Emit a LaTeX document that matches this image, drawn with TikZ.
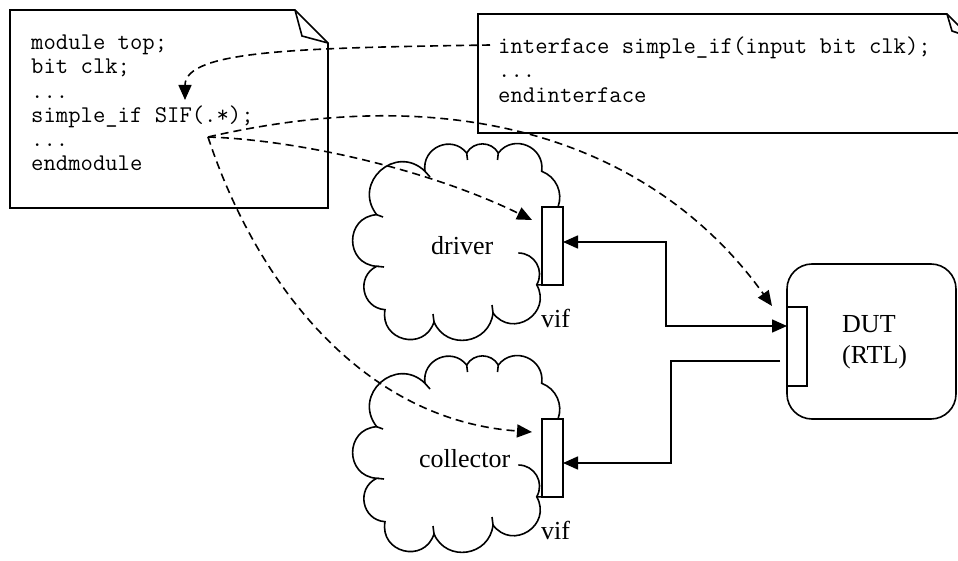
\documentclass[tikz,border=0pt]{standalone}
\usepackage{fontspec}
\setmainfont{Liberation Serif}
\usetikzlibrary{arrows.meta}

\tikzset{
  outline/.style={line width=1.6pt, line join=miter},
  codeline/.style={anchor=base west, inner sep=0pt, font=\ttfamily\fontsize{24pt}{24pt}\selectfont},
  tag/.style={anchor=base west, inner sep=0pt, font=\fontsize{26pt}{31pt}\selectfont},
  port/.style={draw, fill=white, line width=1.6pt, inner sep=0pt, outer sep=0pt},
  solidlink/.style={line width=1.6pt},
  reflink/.style={line width=1.6pt, dash pattern=on 8pt off 5pt},
  head/.style={-{Triangle[length=15pt,width=13pt]}},
  twoheads/.style={{Triangle[length=15pt,width=13pt]}-{Triangle[length=15pt,width=13pt]}},
  lobeA/.style={bend right=60, looseness=1.14},
  lobeB/.style={bend right=75, looseness=1.35},
  lobeC/.style={bend right=86, looseness=1.6},
}

% one cloud outline, open where the label sits and at the port
\newcommand\cloudoutline{%
  \draw[outline] (558,207) to[bend right=45] (541.7,171.3)
    to[lobeB] (498.3,153)
    to[lobeA] (466.7,153)
    to[lobeB] (425,171.3)
    to[lobeC] (376.7,214.7)
    to[lobeC] (376.7,266.3)
    to[lobeB] (385,309.7)
    to[lobeC] (434,322)
    to[lobeB] (493,313)
    to[lobeC] (536.7,284.7)
    to[lobeA] (518.3,253);
  \draw[outline] (536.7,284.7) -- (542,285);
  % small overlaps where neighbouring lobes meet
  \draw[outline] (498.3,153) -- (497.5,160);
  \draw[outline] (466.7,153) -- (467.5,160);
  \draw[outline] (425,171.3) -- (430,177);
  \draw[outline] (376.7,214.7) -- (383,217);
  \draw[outline] (376.7,266.3) -- (384,267);
  \draw[outline] (434,322) -- (433,314);
  \draw[outline] (493,313) -- (492,305);
}

\begin{document}
\begin{tikzpicture}[x=1pt, y=-1pt]
\useasboundingbox (0,0) rectangle (958,561);

% top module source
\draw[outline, fill=white] (10,10) -- (295,10) -- (328,43) -- (328,208) -- (10,208) -- cycle;
\draw[outline] (295,10) -- (302,36) -- (328,43);
\node[codeline] (m1) at (31,49.5) {module top;};
\node[codeline] (m2) at (31,73.8) {bit clk;};
\node[codeline] (m3) at (31,98.1) {...};
\node[codeline] (m4) at (31,122.4) {simple\_if SIF(.*);};
\node[codeline] (m5) at (31,146.7) {...};
\node[codeline] (m6) at (31,171) {endmodule};

% interface source
\draw[outline, fill=white] (478,14) -- (947,14) -- (970,37) -- (970,133) -- (478,133) -- cycle;
\draw[outline] (947,14) -- (952,31) -- (970,37);
\node[codeline] (i1) at (498,53.5) {interface simple\_if(input bit clk);};
\node[codeline] (i2) at (498,78) {...};
\node[codeline] (i3) at (498,102.5) {endinterface};

% driver and collector clouds
\cloudoutline
\begin{scope}[shift={(0,212)}]
  \cloudoutline
\end{scope}
\node[port, minimum width=21pt, minimum height=78pt] (drvvif) at (552.5,246) {};
\node[port, minimum width=21pt, minimum height=78pt] (colvif) at (552.5,458) {};
\node[tag] (drvtxt) at (431,255) {driver};
\node[tag] (coltxt) at (419,467) {collector};
\node[tag] (drvviftxt) at (541,327) {vif};
\node[tag] (colviftxt) at (541,539) {vif};

% design under test
\node[draw, line width=1.6pt, rounded corners=25pt, minimum width=169pt, minimum height=155pt, inner sep=0pt, outer sep=0pt] (dut) at (871.5,341.5) {};
\node[port, minimum width=20pt, minimum height=79pt] (dutport) at (797,346.5) {};
\node[tag] (duttxt) at (842,332) {DUT};
\node[tag] (rtltxt) at (842,363) {(RTL)};

% signal connections
\draw[solidlink, twoheads] ([yshift=4pt]drvvif.east) -- ++(103,0) |- ([yshift=20.5pt]dutport.west);
\draw[solidlink, head] ([xshift=-7pt, yshift=-14.5pt]dutport.west) -- ++(-109,0) |- ([yshift=-5pt]colvif.east);

% references to the interface instance
\coordinate (ifref) at (490,45);
\coordinate (sifin) at (185,100);
\coordinate (sifref) at (208,137);
\coordinate (dutin) at (772,306);
\coordinate (drvin) at (532,220);
\coordinate (colin) at (532,432);
\draw[reflink, head] (ifref) .. controls (300,48) and (185,50) .. (sifin);
\draw[reflink, head] (sifref) .. controls (488,73) and (669,162) .. (dutin);
\draw[reflink, head] (sifref) .. controls (300,140) and (430,170) .. (drvin);
\draw[reflink, head] (sifref) .. controls (255,280) and (360,420) .. (colin);
\end{tikzpicture}
\end{document}
